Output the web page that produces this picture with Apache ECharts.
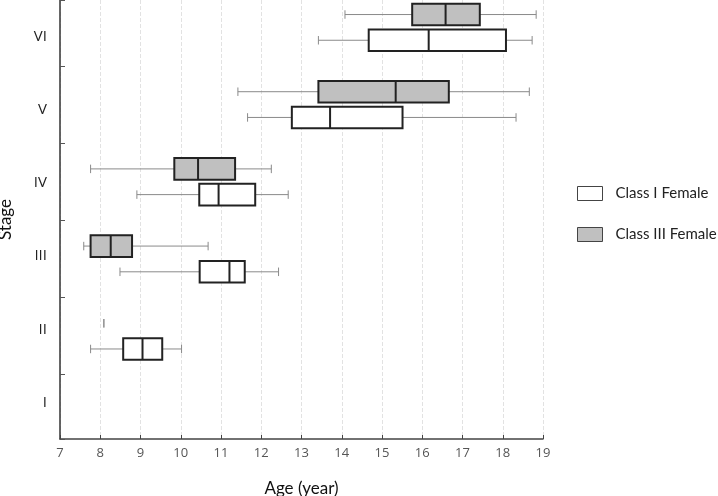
<!DOCTYPE html>
<html>
<head>
<meta charset="utf-8">
<script src="https://cdn.jsdelivr.net/npm/echarts@6/dist/echarts.min.js"></script>
<style>
  html, body { margin: 0; padding: 0; background: #fff; }
  #charts { width: 718px; height: 496px; }
</style>
</head>
<body>
<div id="charts"></div>
<script>
// stages, bottom to top
var stages = ['I', 'II', 'III', 'IV', 'V', 'VI'];
var xTicks = [7, 8, 9, 10, 11, 12, 13, 14, 15, 16, 17, 18, 19];

// [stage index, whisker low, q1, median, q3, whisker high]
var classIFemale = [
    [1, 7.76, 8.57, 9.05, 9.54, 10.02],
    [2, 8.49, 10.47, 11.21, 11.59, 12.43],
    [3, 8.91, 10.46, 10.94, 11.85, 12.67],
    [4, 11.66, 12.76, 13.71, 15.51, 18.33],
    [5, 13.42, 14.67, 16.16, 18.08, 18.73]
];
var classIIIFemale = [
    [1, 8.09, 8.09, 8.09, 8.09, 8.09],
    [2, 7.59, 7.76, 8.26, 8.79, 10.68],
    [3, 7.76, 9.84, 10.43, 11.35, 12.25],
    [4, 11.42, 13.42, 15.34, 16.66, 18.66],
    [5, 14.08, 15.75, 16.58, 17.43, 18.83]
];

// boxes are drawn on a hidden value axis: stage i spans [i, i+1]
function boxRenderer(shift, fill) {
    return function (params, api) {
        var y = api.value(0) + shift;
        var lo = api.coord([api.value(1), y]);
        var q1 = api.coord([api.value(2), y]);
        var md = api.coord([api.value(3), y]);
        var q3 = api.coord([api.value(4), y]);
        var hi = api.coord([api.value(5), y]);
        var h = api.size([0, 0.28])[1];
        var cap = api.size([0, 0.055])[1];
        var whisker = { stroke: '#8a8a8a', lineWidth: 1 };
        var children = [
            { type: 'line', shape: { x1: lo[0], y1: lo[1], x2: q1[0], y2: q1[1] }, style: whisker },
            { type: 'line', shape: { x1: q3[0], y1: q3[1], x2: hi[0], y2: hi[1] }, style: whisker },
            { type: 'line', shape: { x1: lo[0], y1: lo[1] - cap, x2: lo[0], y2: lo[1] + cap }, style: whisker },
            { type: 'line', shape: { x1: hi[0], y1: hi[1] - cap, x2: hi[0], y2: hi[1] + cap }, style: whisker }
        ];
        if (q3[0] - q1[0] > 0) {
            children.push({
                type: 'rect',
                shape: { x: q1[0], y: q1[1] - h / 2, width: q3[0] - q1[0], height: h },
                style: { fill: fill, stroke: '#222', lineWidth: 2 }
            });
            children.push({
                type: 'line',
                shape: { x1: md[0], y1: md[1] - h / 2, x2: md[0], y2: md[1] + h / 2 },
                style: { stroke: '#222', lineWidth: 2 }
            });
        }
        return { type: 'group', children: children };
    };
}

var chart = echarts.init(document.getElementById('charts'));
chart.setOption({
    backgroundColor: '#fff',
    animation: false,
    grid: { left: 60, right: 175, top: 0, bottom: 57, outerBoundsMode: 'none' },
    legend: {
        orient: 'vertical',
        left: 577,
        top: 186,
        padding: 0,
        itemWidth: 25,
        itemHeight: 14,
        itemGap: 26,
        textStyle: { fontFamily: 'Lato', fontSize: 15, color: '#222', padding: [0, 0, 0, 8] },
        data: [
            { name: 'Class I Female', icon: 'rect', itemStyle: { color: '#fff', borderColor: '#444', borderWidth: 1 } },
            { name: 'Class III Female', icon: 'rect', itemStyle: { color: '#c0c0c0', borderColor: '#444', borderWidth: 1 } }
        ]
    },
    xAxis: {
        type: 'value',
        min: xTicks[0],
        max: xTicks[xTicks.length - 1],
        interval: 1,
        name: 'Age (year)',
        nameLocation: 'middle',
        nameGap: 41,
        nameTextStyle: { fontFamily: 'Lato', fontSize: 17, color: '#111' },
        axisLine: { lineStyle: { color: '#444', width: 1.5 } },
        axisTick: { inside: true, length: 4, lineStyle: { color: '#444' } },
        axisLabel: { fontFamily: 'Open Sans', fontSize: 13, color: '#555', margin: 8 },
        splitLine: { show: true, lineStyle: { color: '#e2e2e2', type: 'dashed' } }
    },
    yAxis: [{
        type: 'category',
        data: stages,
        name: 'Stage',
        nameLocation: 'middle',
        nameGap: 46,
        nameTextStyle: { fontFamily: 'Lato', fontSize: 17, color: '#111' },
        axisLine: { lineStyle: { color: '#333', width: 1.5 } },
        axisTick: { show: false },
        axisLabel: { fontFamily: 'Open Sans', fontSize: 15, color: '#222', margin: 13 },
        splitLine: { show: false }
    }, {
        type: 'value',
        min: 0.167,
        max: 5.855,
        minInterval: 1,
        maxInterval: 1,
        position: 'left',
        axisLine: { show: false },
        axisTick: { show: true, inside: true, length: 5, lineStyle: { color: '#555' } },
        axisLabel: { show: false },
        splitLine: { show: false }
    }],
    series: [{
        name: 'Class I Female',
        type: 'custom',
        yAxisIndex: 1,
        renderItem: boxRenderer(1 / 3, '#fff'),
        encode: { x: [1, 2, 3, 4, 5], y: 0 },
        itemStyle: { color: '#fff', borderColor: '#444' },
        data: classIFemale
    }, {
        name: 'Class III Female',
        type: 'custom',
        yAxisIndex: 1,
        renderItem: boxRenderer(2 / 3, '#c0c0c0'),
        encode: { x: [1, 2, 3, 4, 5], y: 0 },
        itemStyle: { color: '#c0c0c0', borderColor: '#444' },
        data: classIIIFemale
    }]
});
</script>
</body>
</html>
